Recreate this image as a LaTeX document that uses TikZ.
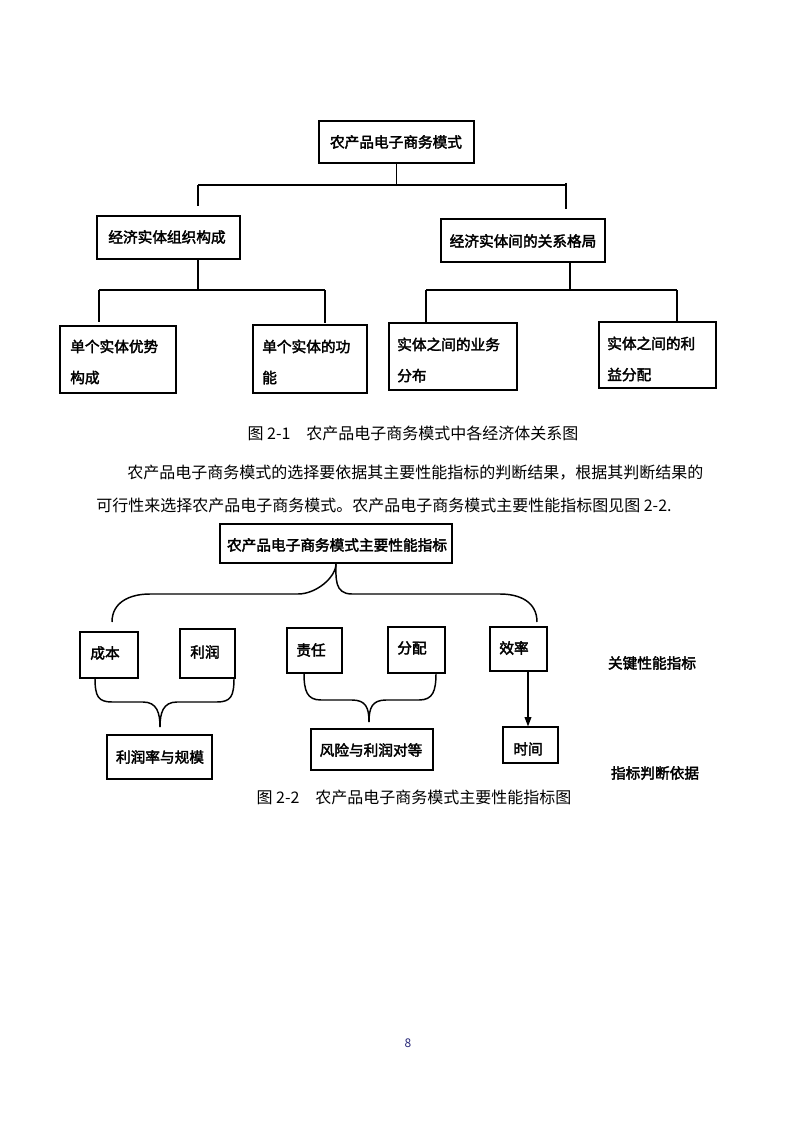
\documentclass[tikz,border=0pt]{standalone}
\usepackage{fontspec}
\setmainfont{Noto Sans CJK SC}
\newfontfamily\hei[FakeBold=2.4]{Noto Sans CJK SC}
\usetikzlibrary{fit,arrows.meta}
\definecolor{pagenum}{RGB}{40,40,120}

\begin{document}
\begin{tikzpicture}[x=0.75pt,y=-0.75pt,
  box/.style={draw,line width=0.8pt,inner sep=0pt},
  lab/.style={inner sep=0pt,font=\hei\fontsize{11}{13}\selectfont},
  labtwo/.style={inner sep=0pt,anchor=west,align=left,font=\hei\fontsize{11}{23.3}\selectfont},
  txt/.style={inner sep=0pt,anchor=west,font=\fontsize{12}{14}\selectfont},
  figcap/.style={inner sep=0pt,font=\fontsize{12}{14}\selectfont},
  bar/.style={line width=1.3pt},
  brace/.style={line width=1.1pt}]
\useasboundingbox[fill=white] (0,0) rectangle (794,1123);

% figure 2-1
\node[box,fit={(319,121) (474,163)}] (m0) {};
\node[box,fit={(97,216) (240,259)}] (m1) {};
\node[box,fit={(441,219) (605,262)}] (m2) {};
\node[box,fit={(60,326) (176,393)}] (s1) {};
\node[box,fit={(253,325) (367,393)}] (s2) {};
\node[box,fit={(389,323) (517,390)}] (s3) {};
\node[box,fit={(599,322) (716,388)}] (s4) {};
\node[lab] (m0t) at (396,142) {农产品电子商务模式};
\node[lab] (m1t) at (167,237) {经济实体组织构成};
\node[lab] (m2t) at (523,241) {经济实体间的关系格局};
\node[labtwo] (s1t) at (70,362) {单个实体优势\\构成};
\node[labtwo] (s2t) at (262,362) {单个实体的功\\能};
\node[labtwo] (s3t) at (397,360) {实体之间的业务\\分布};
\node[labtwo] (s4t) at (607,359) {实体之间的利\\益分配};

\coordinate (j0) at (396.5,185);
\coordinate (j0l) at (198,185);
\coordinate (j0r) at (566,185);
\draw[bar] (m0.south) -- (m0.south |- j0);
\draw[bar] (j0l) -- (j0r);
\draw[bar] (j0l) -- ++(0,21);
\draw[bar] ([yshift=1.5pt]j0r) -- ++(0,26);

\coordinate (j1) at (198,290);
\coordinate (j1l) at (99,290);
\coordinate (j1r) at (325,290);
\draw[bar] (m1.south -| j1) -- (j1);
\draw[bar] (j1l) -- (j1r);
\draw[bar] (j1l) -- ++(0,32);
\draw[bar] (j1r) -- ++(0,33);

\coordinate (j2) at (570,290);
\coordinate (j2l) at (426,290);
\coordinate (j2r) at (677,290);
\draw[bar] (m2.south -| j2) -- (j2);
\draw[bar] (j2l) -- (j2r);
\draw[bar] (j2l) -- (s3.north -| j2l);
\draw[bar] (j2r) -- (s4.north -| j2r);

\node[figcap] (c1) at (413,433) {图 2-1\quad 农产品电子商务模式中各经济体关系图};

% text
\node[txt] (p1) at (127,473) {农产品电子商务模式的选择要依据其主要性能指标的判断结果，根据其判断结果的};
\node[txt] (p2) at (96,505) {可行性来选择农产品电子商务模式。农产品电子商务模式主要性能指标图见图 2-2.};

% figure 2-2
\node[box,fit={(220,524) (452,563)}] (k0) {};
\node[box,fit={(80,632) (138,678)}] (k1) {};
\node[box,fit={(180,629) (235,678)}] (k2) {};
\node[box,fit={(287,628) (342,673)}] (k3) {};
\node[box,fit={(388,627) (445,673)}] (k4) {};
\node[box,fit={(490,627) (547,671)}] (k5) {};
\node[box,fit={(107,735) (212,779)}] (r1) {};
\node[box,fit={(311,729) (433,770)}] (r2) {};
\node[box,fit={(503,727) (558,763)}] (r3) {};
\node[lab] (k0t) at (337,545) {农产品电子商务模式主要性能指标};
\node[lab] (k1t) at (105,653) {成本};
\node[lab] (k2t) at (205,652) {利润};
\node[lab] (k3t) at (311,650) {责任};
\node[lab] (k4t) at (412,648) {分配};
\node[lab] (k5t) at (514,648) {效率};
\node[lab] (r1t) at (160,757) {利润率与规模};
\node[lab] (r2t) at (371,750) {风险与利润对等};
\node[lab] (r3t) at (528,749) {时间};
\node[lab] (t1) at (652,663) {关键性能指标};
\node[lab] (t2) at (655,773) {指标判断依据};

\coordinate (bl) at (112,622);
\coordinate (br) at (537,622);
\draw[brace] (bl) .. controls +(0,-20) and +(-20,0) .. (150,594) -- (298,594)
  .. controls +(18,0) and +(0,14) .. (k0.south);
\draw[brace] (k0.south) .. controls +(0,14) and +(-18,0) .. (352,594) -- (500,594)
  .. controls +(20,0) and +(0,-20) .. (br);

\coordinate (d1l) at (95,678);
\coordinate (d1t) at (160,727);
\coordinate (d1r) at (234,678);
\draw[brace] (d1l) .. controls +(0,18) and +(-14,0) .. (112,702) -- (143,702)
  .. controls +(14,0) and +(0,-14) .. (d1t);
\draw[brace] (d1t) .. controls +(0,-14) and +(-14,0) .. (177,702) -- (217,702)
  .. controls +(14,0) and +(0,18) .. (d1r);

\coordinate (d2l) at (304,673);
\coordinate (d2t) at (369,722);
\coordinate (d2r) at (436,673);
\draw[brace] (d2l) .. controls +(0,18) and +(-14,0) .. (321,700) -- (352,700)
  .. controls +(14,0) and +(0,-14) .. (d2t);
\draw[brace] (d2t) .. controls +(0,-14) and +(-14,0) .. (386,700) -- (419,700)
  .. controls +(14,0) and +(0,18) .. (d2r);

\coordinate (ax) at (528,0);
\draw[line width=1pt,-{Triangle[length=7pt,width=5pt]}] (k5.south -| ax) -- (r3.north -| ax);

\node[figcap] (c2) at (414,797) {图 2-2\quad 农产品电子商务模式主要性能指标图};

\node[inner sep=0pt,text=pagenum,font=\fontsize{9}{10}\selectfont] (pg) at (408,1043) {8};
\end{tikzpicture}
\end{document}
